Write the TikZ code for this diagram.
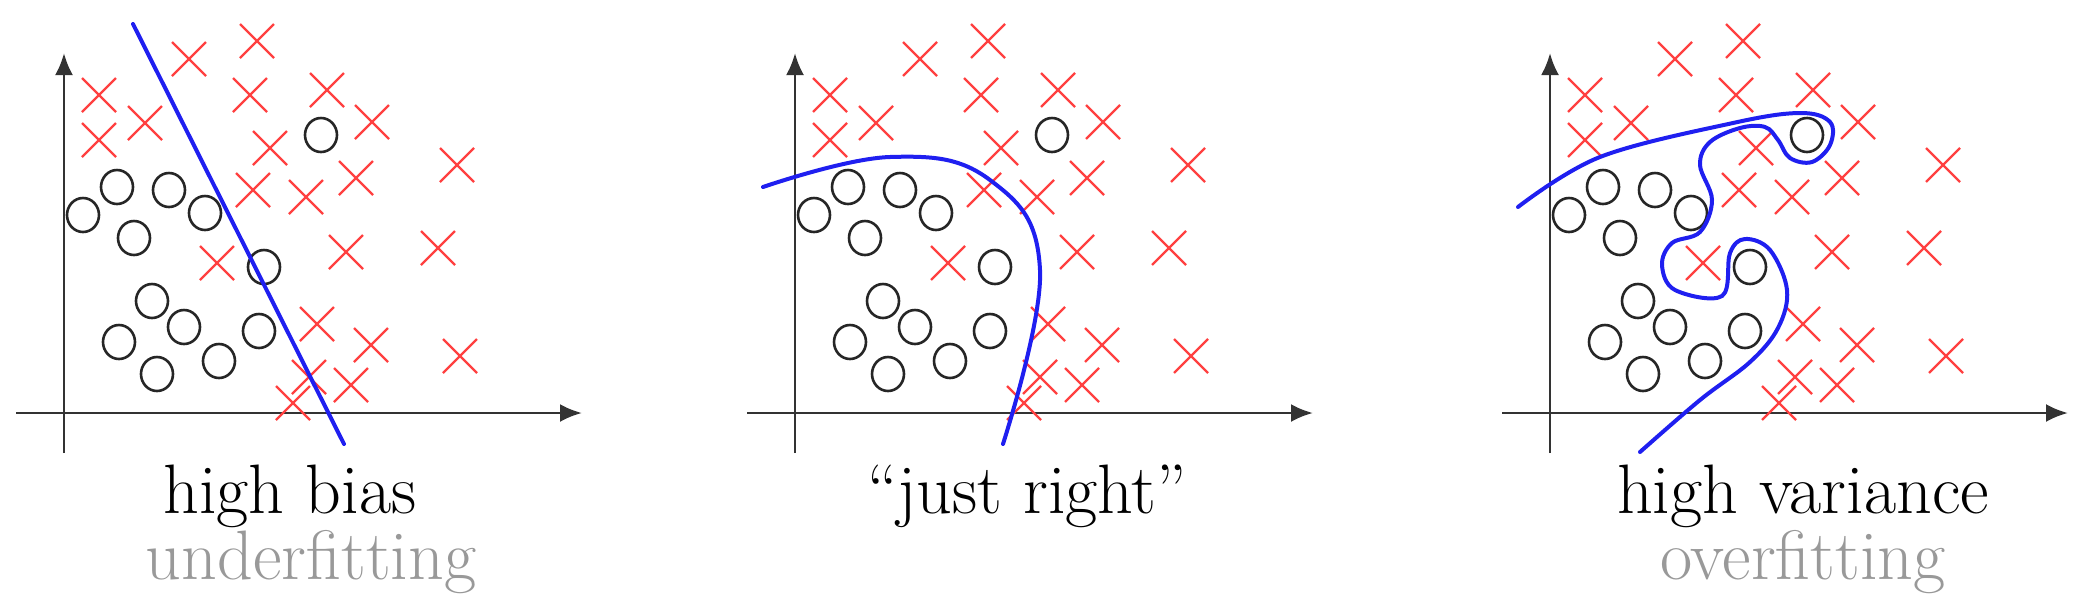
\documentclass[tikz,border=0pt]{standalone}
\usetikzlibrary{arrows.meta}
\definecolor{xred}{HTML}{FF4040}
\definecolor{fitblue}{HTML}{1F1FF0}
\definecolor{subgray}{HTML}{999999}
\begin{document}
\begin{tikzpicture}[x=1pt,y=-1pt,
  axis/.style={line width=2.8pt,black!80,-{Latex[length=22pt,width=18pt]}},
  circ/.style={line width=2.6pt,black!85},
  xmark/.style={line width=2.4pt,xred},
  fit/.style={line width=4pt,fitblue,line cap=round},
  lab/.style={font=\fontsize{70}{78}\selectfont,inner sep=0pt}]
\useasboundingbox (0,0) rectangle (2080,598);
\foreach \o in {0,731,1486}{
  \begin{scope}[xshift=\o]
    \draw[axis] (64,453) -- (64,53);
    \draw[axis] (16,413) -- (582,413);
    \foreach \p in {(321,135),(117,187),(169,190),(205,213),(83,215),(134,238),(264,267),(152,301),(184,327),(259,331),(119,342),(219,361),(157,374)}
      \draw[circ] \p ellipse (16 and 17);
    \foreach \p in {(99,95),(99,140),(145,123),(250,95),(327,90),(372,122),(270,148),(253,190),(306,197),(356,178),(346,252),(217,263),(317,324),(371,345),(309,377),(351,385),(293,403),(189,59),(257,41),(457,165),(438,248),(460,356)}
      \draw[xmark] \p ++(-17,-17) -- ++(34,34) \p ++(-17,17) -- ++(34,-34);
  \end{scope}}
\draw[fit] (133,24) -- (344,444);
\draw[fit] plot[smooth,tension=0.7] coordinates {(763,187) (890,157) (990,180) (1040,270) (1003,444)};
\draw[fit] plot[smooth,tension=0.6] coordinates {(1518,207) (1600,157) (1733,123) (1800,113) (1830,122) (1830,145) (1812,162) (1790,158) (1778,140) (1765,127) (1740,128) (1710,142) (1700,165) (1712,200) (1700,232) (1672,243) (1662,265) (1675,290) (1722,296) (1730,253) (1745,239) (1770,250) (1787,290) (1778,328) (1750,362) (1700,400) (1640,452)};
\node[lab] (hb) at (290,496) {high bias};
\node[lab,text=subgray] (uf) at (311,562) {underfitting};
\node[lab] (jr) at (1027,496) {``just right''};
\node[lab] (hv) at (1803,496) {high variance};
\node[lab,text=subgray] (of) at (1803,562) {overfitting};
\end{tikzpicture}
\end{document}
